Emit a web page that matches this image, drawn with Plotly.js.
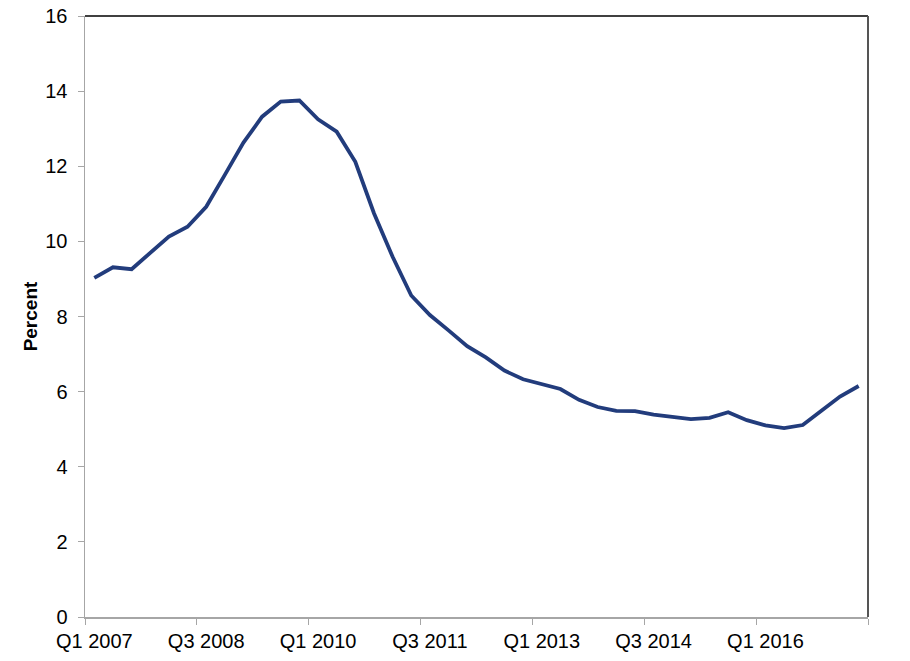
<!DOCTYPE html>
<html>
<head>
<meta charset="utf-8">
<script src="https://cdn.plot.ly/plotly-3.0.1.min.js"></script>
<style>html,body{margin:0;padding:0;background:#fff;} #chart{width:910px;height:661px;}</style>
</head>
<body>
<div id="chart"></div>
<script>
// Quarterly values, Q1 2007 .. Q2 2017 (percent)
var startYear = 2007;
var values = [
  9.03, 9.31, 9.26, 9.70, 10.13, 10.39, 10.92, 11.77, 12.63, 13.32,
  13.72, 13.75, 13.25, 12.92, 12.12, 10.75, 9.59, 8.56, 8.04, 7.63,
  7.21, 6.91, 6.56, 6.33, 6.20, 6.07, 5.78, 5.59, 5.49, 5.48,
  5.39, 5.33, 5.27, 5.30, 5.45, 5.24, 5.10, 5.03, 5.11, 5.49,
  5.87, 6.15
];
var quarters = [];
for (var i = 0; i < values.length; i++) {
  quarters.push('Q' + ((i % 4) + 1) + ' ' + (startYear + Math.floor(i / 4)));
}
var tickLabels = ['Q1 2007', 'Q3 2008', 'Q1 2010', 'Q3 2011', 'Q1 2013', 'Q3 2014', 'Q1 2016'];
var yTicks = [0, 2, 4, 6, 8, 10, 12, 14, 16];

var xIdx = quarters.map(function (q, i) { return i; });
var tickStep = 6;
// tick marks sit on category boundaries, labels centred on categories
var tickMarkPos = [];
for (var b = -0.5; b <= values.length - 0.5; b += tickStep) tickMarkPos.push(b);
var labelPos = tickLabels.map(function (t, i) { return i * tickStep; });

var trace = {
  x: xIdx,
  y: values,
  text: quarters,
  type: 'scatter',
  mode: 'lines',
  line: { color: '#223c7c', width: 3.8 },
  hoverinfo: 'text+y'
};
// invisible helper trace so the label axis exists
var labelTrace = {
  x: [xIdx[0]], y: [values[0]], xaxis: 'x2', yaxis: 'y',
  type: 'scatter', mode: 'markers', marker: { opacity: 0 }, hoverinfo: 'skip', showlegend: false
};

var fam = 'Liberation Sans, Arial, sans-serif';
var font = { family: fam, size: 20, color: '#000' };
var range = [-0.5, values.length - 0.5];
var layout = {
  width: 910,
  height: 661,
  margin: { l: 85, r: 42, t: 16, b: 44 },
  paper_bgcolor: '#fff',
  plot_bgcolor: '#fff',
  showlegend: false,
  font: font,
  xaxis: {
    type: 'linear',
    range: range,
    tickmode: 'array',
    tickvals: tickMarkPos,
    ticktext: tickMarkPos.map(function () { return ''; }),
    ticks: 'outside',
    ticklen: 6,
    tickwidth: 1,
    tickcolor: '#a6a6a6',
    showline: true,
    linecolor: '#a6a6a6',
    linewidth: 1.5,
    showgrid: false,
    zeroline: false
  },
  xaxis2: {
    type: 'linear',
    overlaying: 'x',
    anchor: 'y',
    side: 'bottom',
    range: range,
    tickmode: 'array',
    tickvals: labelPos,
    ticktext: tickLabels,
    ticks: 'outside',
    ticklen: 6,
    tickcolor: 'rgba(0,0,0,0)',
    showline: false,
    showgrid: false,
    zeroline: false,
    tickfont: font
  },
  yaxis: {
    range: [0, 16],
    tickmode: 'array',
    tickvals: yTicks,
    ticktext: yTicks.map(String),
    ticks: 'outside',
    ticklen: 6,
    tickwidth: 1,
    tickcolor: '#a6a6a6',
    ticklabelstandoff: 6,
    showline: true,
    linecolor: '#a6a6a6',
    linewidth: 1.5,
    showgrid: false,
    zeroline: false,
    tickfont: font,
    title: { text: 'Percent', font: { family: fam, size: 19, color: '#000', weight: 'bold' }, standoff: 2 }
  },
  shapes: [
    { type: 'line', xref: 'paper', yref: 'paper', x0: 0, x1: 1, y0: 1, y1: 1, line: { color: '#000', width: 1.5 } },
    { type: 'line', xref: 'paper', yref: 'paper', x0: 1, x1: 1, y0: 0, y1: 1, line: { color: '#555', width: 2 } }
  ]
};

Plotly.newPlot('chart', [trace, labelTrace], layout, { displayModeBar: false, staticPlot: true });
</script>
</body>
</html>
